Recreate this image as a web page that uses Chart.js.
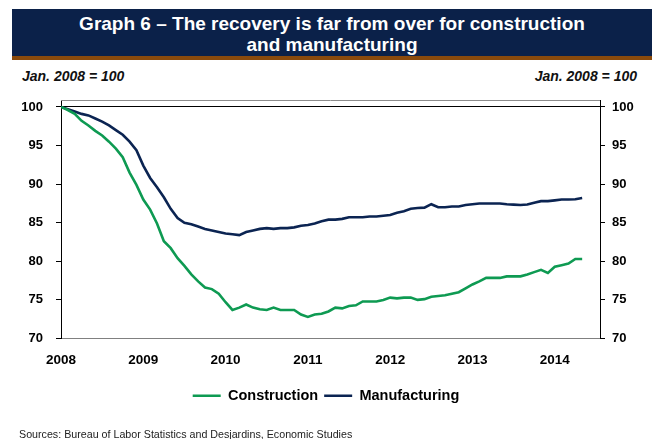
<!DOCTYPE html>
<html>
<head>
<meta charset="utf-8">
<script src="https://cdn.jsdelivr.net/npm/chart.js@4"></script>
<style>
    body { margin: 0; background: #fff; font-family: "Liberation Sans", Arial, sans-serif; }
    #wrap { position: relative; width: 652px; height: 439px; overflow: hidden; }
    #banner {
        position: absolute; left: 12px; top: 9px; width: 640px; height: 43px;
        background: #0b2149; border-bottom: 4px solid #8a4a0c;
        color: #fff; font-weight: bold; font-size: 19px; line-height: 21px;
        text-align: center; padding-top: 4px; box-sizing: content-box;
    }
    .unit { position: absolute; top: 68px; font-size: 14px; font-weight: bold; font-style: italic; color: #111; }
    #source { position: absolute; left: 19px; top: 428px; font-size: 10.7px; color: #222; }
    #chart { position: absolute; left: 0; top: 0; }
</style>
</head>
<body>
<div id="wrap">
    <div id="banner">Graph 6 – The recovery is far from over for construction<br>and manufacturing</div>
    <div class="unit" style="left:22px">Jan. 2008 = 100</div>
    <div class="unit" style="right:15px">Jan. 2008 = 100</div>
    <canvas id="chart" width="652" height="439"></canvas>
    <div id="source">Sources: Bureau of Labor Statistics and Desjardins, Economic Studies</div>
</div>
<script>
// Monthly index, Jan. 2008 = 100 (Jan. 2008 .. May 2014)
const construction = [
    100, 99.6, 99.1, 98.2, 97.6, 96.9, 96.3, 95.5, 94.6, 93.5, 91.5, 89.9,
    88.0, 86.7, 84.9, 82.6, 81.7, 80.4, 79.4, 78.3, 77.4, 76.6, 76.4, 75.8,
    74.7, 73.7, 74.0, 74.4, 74.0, 73.8, 73.7, 74.0, 73.7, 73.7, 73.7, 73.1,
    72.8, 73.1, 73.2, 73.5, 74.0, 73.9, 74.2, 74.3, 74.8, 74.8, 74.8, 75.0,
    75.3, 75.2, 75.3, 75.3, 75.0, 75.1, 75.4, 75.5, 75.6, 75.8, 76.0, 76.5,
    77.0, 77.4, 77.85, 77.85, 77.85, 78.05, 78.05, 78.05, 78.3, 78.6, 78.9, 78.5,
    79.3, 79.5, 79.7, 80.3, 80.3
];
const manufacturing = [
    100, 99.7, 99.4, 99.1, 98.9, 98.5, 98.1, 97.6, 97.0, 96.4, 95.5, 94.4,
    92.4, 90.8, 89.6, 88.3, 86.8, 85.6, 85.0, 84.8, 84.5, 84.2, 84.0, 83.8,
    83.6, 83.5, 83.4, 83.8, 84.0, 84.2, 84.3, 84.2, 84.3, 84.3, 84.4, 84.6,
    84.7, 84.9, 85.2, 85.4, 85.4, 85.5, 85.7, 85.7, 85.7, 85.8, 85.8, 85.9,
    86.0, 86.3, 86.5, 86.8, 86.9, 86.95, 87.4, 87.0, 87.0, 87.1, 87.1, 87.3,
    87.4, 87.5, 87.5, 87.5, 87.5, 87.4, 87.35, 87.3, 87.35, 87.6, 87.8, 87.8,
    87.9, 88.0, 88.0, 88.05, 88.2
];
const yearLabels = ['2008', '2009', '2010', '2011', '2012', '2013', '2014'];
const yTicks = [70, 75, 80, 85, 90, 95, 100];

const FONT = '"Liberation Sans", Arial, sans-serif';
const GREEN = '#0e9a52';
const NAVY = '#0b2452';

function toPoints(arr) {
    return arr.map((v, i) => ({ x: i, y: v }));
}

// grey frame line along the top of the plot area
const topBorder = {
    id: 'topBorder',
    afterDraw(chart) {
        const a = chart.chartArea;
        const ctx = chart.ctx;
        ctx.save();
        ctx.strokeStyle = '#8c8c8c';
        ctx.lineWidth = 1;
        ctx.beginPath();
        ctx.moveTo(a.left, a.top + 0.5);
        ctx.lineTo(a.right, a.top + 0.5);
        ctx.stroke();
        ctx.restore();
    }
};

const keepFives = scale => {
    scale.ticks = yTicks.map(v => ({ value: v }));
};

new Chart(document.getElementById('chart'), {
    type: 'line',
    data: {
        datasets: [
            {
                label: 'Construction',
                data: toPoints(construction),
                borderColor: GREEN,
                backgroundColor: GREEN,
                borderWidth: 2.6,
                pointRadius: 0,
                tension: 0
            },
            {
                label: 'Manufacturing',
                data: toPoints(manufacturing),
                borderColor: NAVY,
                backgroundColor: NAVY,
                borderWidth: 2.6,
                pointRadius: 0,
                tension: 0
            }
        ]
    },
    options: {
        responsive: false,
        animation: false,
        layout: { padding: { top: 100, left: 0, right: 0, bottom: 26 } },
        plugins: {
            title: { display: false },
            tooltip: { enabled: false },
            legend: {
                position: 'bottom',
                labels: {
                    usePointStyle: true,
                    pointStyle: 'line',
                    pointStyleWidth: 28,
                    padding: 6,
                    color: '#000',
                    font: { family: FONT, size: 14.5, weight: 'bold' }
                }
            }
        },
        scales: {
            x: {
                type: 'linear',
                min: 0,
                max: 78.6,
                grid: { display: false, drawTicks: false },
                border: { color: '#808080', width: 1 },
                afterFit: s => { s.height = 44; },
                afterBuildTicks: s => { s.ticks = yearLabels.map((y, i) => ({ value: i * 12 })); },
                ticks: {
                    autoSkip: false,
                    maxRotation: 0,
                    padding: 14,
                    color: '#000',
                    font: { family: FONT, size: 13.5, weight: 'bold' },
                    callback: v => yearLabels[v / 12]
                }
            },
            y: {
                position: 'left',
                min: 70,
                max: 100.9,
                afterBuildTicks: keepFives,
                afterFit: s => { s.width = 61; },
                grid: {
                    color: c => (c.tick && c.tick.value === 100 ? '#000' : 'transparent'),
                    tickColor: '#000',
                    tickLength: 5,
                    lineWidth: 1
                },
                border: { color: '#000', width: 1 },
                ticks: {
                    padding: 13,
                    color: '#000',
                    font: { family: FONT, size: 13, weight: 'bold' }
                }
            },
            y2: {
                position: 'right',
                min: 70,
                max: 100.9,
                afterBuildTicks: keepFives,
                afterFit: s => { s.width = 52; },
                grid: { drawOnChartArea: false, tickColor: '#000', tickLength: 5 },
                border: { color: '#000', width: 1 },
                ticks: {
                    padding: 7,
                    color: '#000',
                    font: { family: FONT, size: 13, weight: 'bold' }
                }
            }
        }
    },
    plugins: [topBorder]
});
</script>
</body>
</html>
